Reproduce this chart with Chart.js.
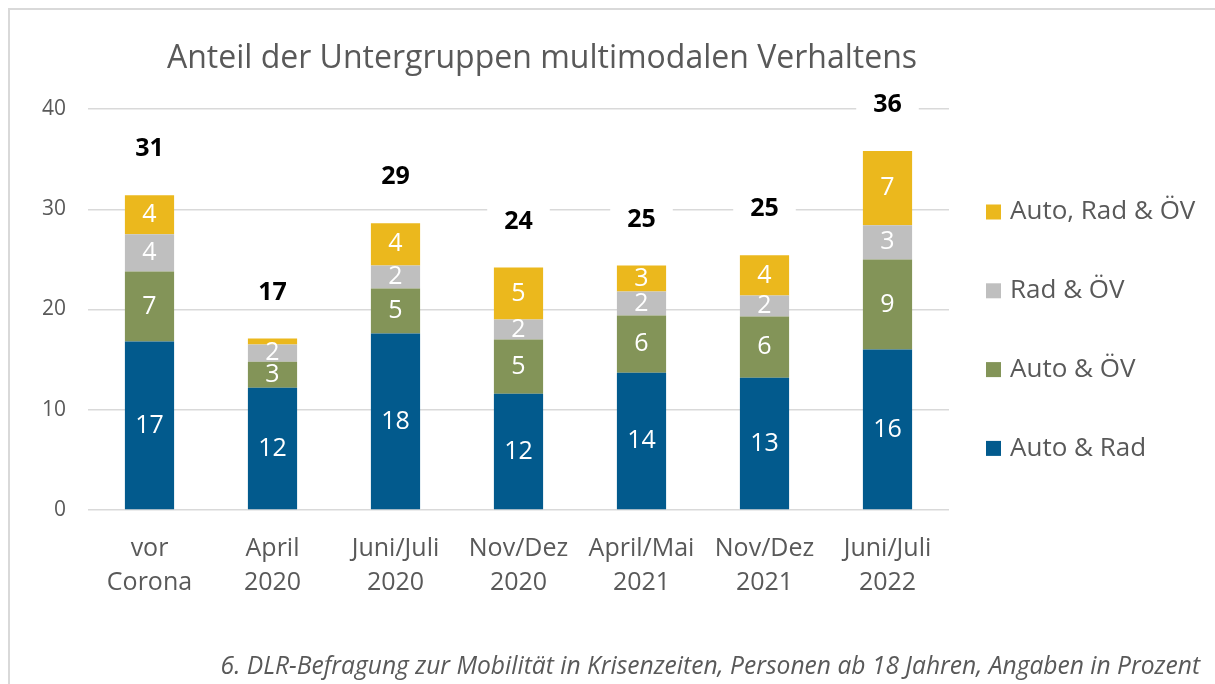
<!DOCTYPE html>
<html>
<head>
<meta charset="utf-8">
<script src="https://cdn.jsdelivr.net/npm/chart.js@4.4.1/dist/chart.umd.min.js"></script>
<style>
  html, body { margin: 0; padding: 0; background: #fff; }
  #wrap { width: 1215px; height: 684px; position: relative; }
</style>
</head>
<body>
<div id="wrap"><canvas id="chart"></canvas></div>
<script>
// Kategorien (x-Achse)
const categories = [
  ['vor', 'Corona'], ['April', '2020'], ['Juni/Juli', '2020'], ['Nov/Dez', '2020'],
  ['April/Mai', '2021'], ['Nov/Dez', '2021'], ['Juni/Juli', '2022']
];
const seriesNames = ['Auto & Rad', 'Auto & ÖV', 'Rad & ÖV', 'Auto, Rad & ÖV'];
const autoRad    = [16.8, 12.2, 17.6, 11.6, 13.7, 13.2, 16.0];
const autoOev    = [7.0, 2.6, 4.5, 5.4, 5.7, 6.1, 9.0];
const radOev     = [3.7, 1.7, 2.3, 2.0, 2.4, 2.1, 3.4];
const autoRadOev = [3.9, 0.6, 4.2, 5.2, 2.6, 4.0, 7.4];
const totals     = [31, 17, 29, 24, 25, 25, 36];
const yTicks     = [0, 10, 20, 30, 40];

const title = 'Anteil der Untergruppen multimodalen Verhaltens';
const caption = '6. DLR-Befragung zur Mobilität in Krisenzeiten, Personen ab 18 Jahren, Angaben in Prozent';

const colors = ['#025A8D', '#839458', '#BFBFBF', '#EBB81D'];
const FONT = '"Open Sans", sans-serif';
const GREY = '#595959';

// Rahmen, Titel, Legende, Fußnote und Beschriftungen
const decorations = {
  id: 'decorations',
  beforeDraw(chart) {
    const ctx = chart.ctx;
    ctx.save();
    ctx.fillStyle = '#fff';
    ctx.fillRect(0, 0, chart.width, chart.height);
    ctx.strokeStyle = '#D9D9D9';
    ctx.lineWidth = 2;
    ctx.strokeRect(9, 9, chart.width + 20, chart.height + 20);
    ctx.restore();
  },
  afterDatasetsDraw(chart) {
    const ctx = chart.ctx;
    ctx.save();
    ctx.textAlign = 'center';
    ctx.textBaseline = 'middle';
    // Werte in den Segmenten
    ctx.font = '25px ' + FONT;
    ctx.fillStyle = '#fff';
    chart.data.datasets.forEach((ds, di) => {
      chart.getDatasetMeta(di).data.forEach((bar, i) => {
        const v = ds.data[i];
        if (v < 1) return;
        ctx.fillText(String(Math.round(v)), bar.x, (bar.y + bar.base) / 2);
      });
    });
    // Summen über den Balken
    const top = chart.getDatasetMeta(chart.data.datasets.length - 1).data;
    ctx.font = 'bold 25px ' + FONT;
    top.forEach((bar, i) => {
      const y = bar.y - 46;
      const txt = String(totals[i]);
      const w = ctx.measureText(txt).width + 34;
      ctx.fillStyle = '#fff';
      ctx.fillRect(bar.x - w / 2, y - 15, w, 30);
      ctx.fillStyle = '#000';
      ctx.fillText(txt, bar.x, y);
    });
    ctx.restore();
  },
  afterDraw(chart) {
    const ctx = chart.ctx;
    ctx.save();
    ctx.fillStyle = GREY;
    ctx.textBaseline = 'middle';
    ctx.textAlign = 'center';
    ctx.font = '32px ' + FONT;
    ctx.fillText(title, 542, 59);

    // Legende (umgekehrte Reihenfolge)
    ctx.textAlign = 'left';
    ctx.font = '26px ' + FONT;
    const n = chart.data.datasets.length;
    for (let k = 0; k < n; k++) {
      const ds = chart.data.datasets[n - 1 - k];
      const cy = 212 + k * 78.8;
      ctx.fillStyle = ds.backgroundColor;
      ctx.fillRect(986, cy - 7.5, 15, 15);
      ctx.fillStyle = GREY;
      ctx.fillText(ds.label, 1010, cy);
    }

    ctx.textAlign = 'right';
    ctx.font = 'italic 24.6px ' + FONT;
    ctx.fillText(caption, 1200, 667);
    ctx.restore();
  }
};

const datasets = [autoRad, autoOev, radOev, autoRadOev].map((d, i) => ({
  label: seriesNames[i],
  data: d,
  backgroundColor: colors[i],
  borderWidth: 0,
  categoryPercentage: 1,
  barPercentage: 0.4
}));

new Chart(document.getElementById('chart'), {
  type: 'bar',
  data: { labels: categories, datasets: datasets },
  options: {
    responsive: true,
    maintainAspectRatio: false,
    animation: false,
    layout: { padding: { top: 109, right: 266, bottom: 0, left: 10 } },
    plugins: {
      legend: { display: false },
      title: { display: false },
      tooltip: { enabled: false }
    },
    scales: {
      x: {
        stacked: true,
        grid: { display: false, drawTicks: false },
        border: { display: false },
        ticks: {
          color: GREY,
          font: { family: FONT, size: 25, lineHeight: 1.36 },
          padding: 22
        },
        afterFit(s) { s.height = 174; }
      },
      y: {
        stacked: true,
        min: 0,
        max: 40,
        afterBuildTicks(s) { s.ticks = yTicks.map(v => ({ value: v })); },
        grid: { color: '#D9D9D9', lineWidth: 1.5, drawTicks: false },
        border: { display: false },
        ticks: {
          color: GREY,
          font: { family: FONT, size: 21 },
          padding: 22
        },
        afterFit(s) { s.width = 78; }
      }
    }
  },
  plugins: [decorations]
});
</script>
</body>
</html>
